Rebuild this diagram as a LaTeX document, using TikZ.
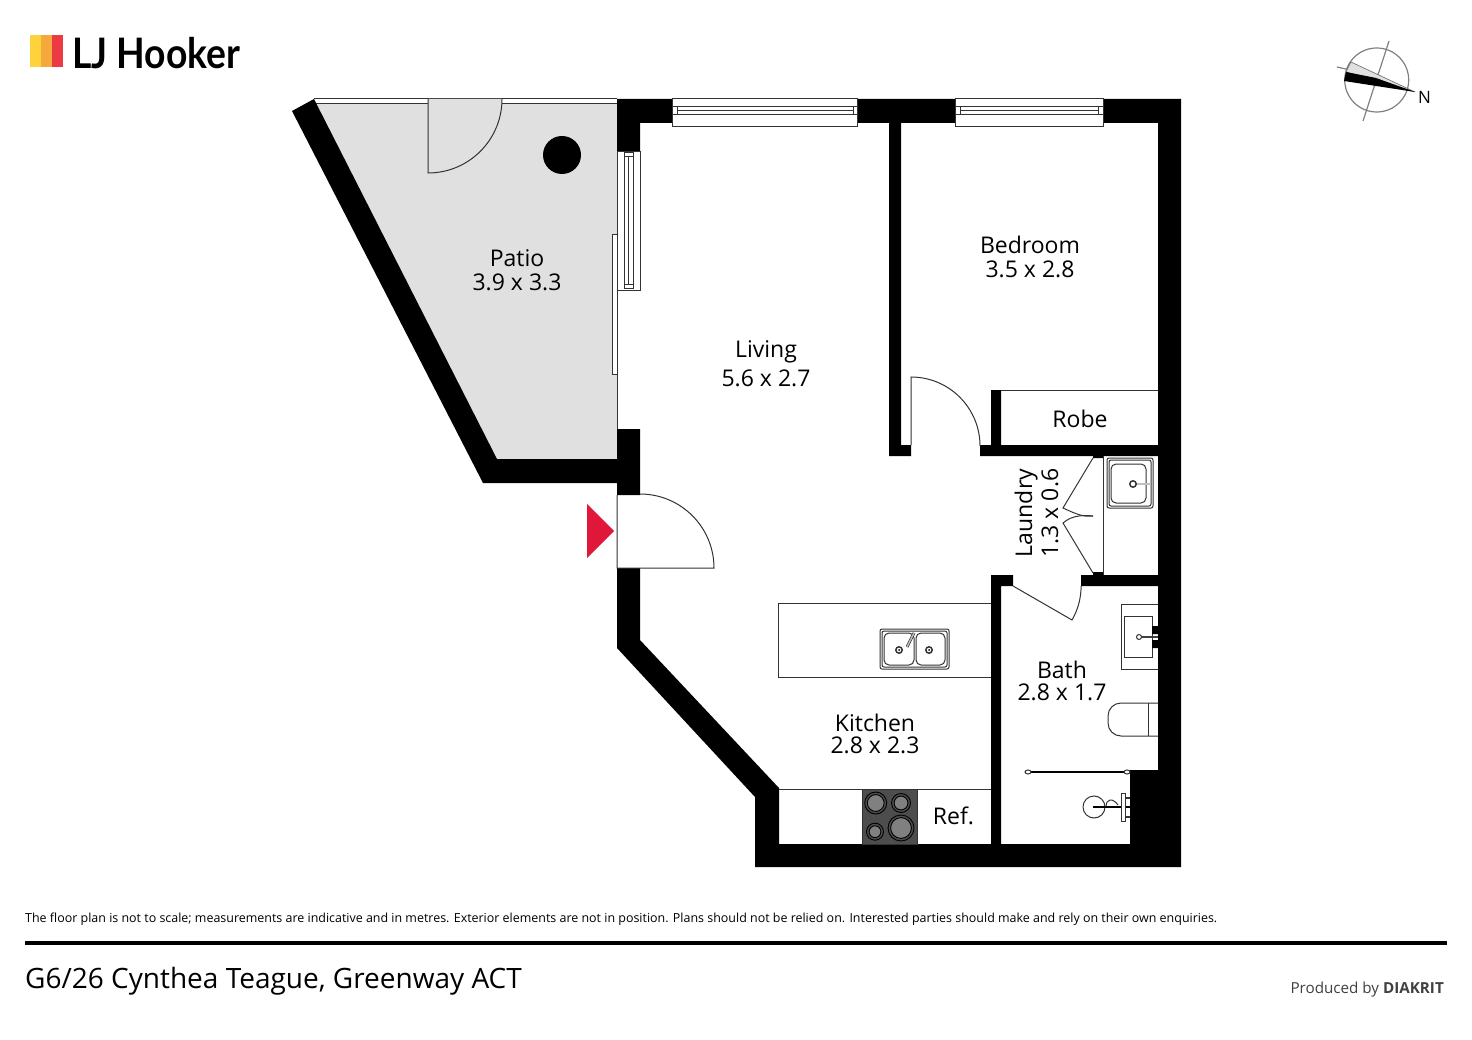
\documentclass[tikz,border=0pt]{standalone}
\usepackage{fontspec}
\setmainfont{Open Sans}
\newfontfamily\logofont{Lato}
\usepackage{xcolor}
\definecolor{patiogrey}{RGB}{224,224,224}
\definecolor{entryred}{RGB}{224,23,58}
\definecolor{logoyellow}{RGB}{253,210,59}
\definecolor{logoorange}{RGB}{245,168,59}
\definecolor{logored}{RGB}{236,58,69}
\definecolor{hobgrey}{RGB}{77,77,77}
\newcommand{\burnerat}[3]{
    \draw[draw=black, fill=hobgrey, line width=0.9pt] (#1,#2) circle[radius=#3];
    \draw[draw=black, fill=black!50, line width=0.9pt] (#1,#2) circle[radius=#3-2.6];
}
\tikzset{
    wall/.style={fill=black},
    fine/.style={draw=black!80, line width=1pt},
    tap/.style={draw=black!80, line width=0.7pt, double=black!25, double distance=1.4pt},
    roomlabel/.style={align=center, inner sep=0pt, font=\fontsize{23}{24}\selectfont},
    compassline/.style={draw=black!50, line width=1.2pt}
}
\begin{document}
\begin{tikzpicture}[x=1pt,y=1pt,yscale=-1]
    \useasboundingbox (0,0) rectangle (1472,1040);

    % logo
    \fill[logoyellow] (30,35) rectangle (41,67);
    \fill[logoorange] (41,35) rectangle (52,67);
    \fill[logored] (52,35) rectangle (63,67);
    \node[anchor=west, inner sep=0pt, font=\logofont\bfseries\fontsize{42}{42}\selectfont] (logotext) at (72,53)
        {\scalebox{0.887}[1]{LJ Hooker}};

    % compass
    \draw[compassline] (1376.7,80) circle[radius=32];
    \draw[compassline] (1389,41) -- (1363,121);
    \draw[compassline] (1337,67) -- (1350,70);
    \fill[black!12, draw=black!60, line width=0.6pt] (1351,62) -- (1415,92) -- (1346,72) -- cycle;
    \fill[black] (1346,72) -- (1376,78) -- (1415,92) -- (1344,81) -- cycle;
    \node[font=\fontsize{17}{17}\selectfont, inner sep=0pt] (north) at (1424.5,97) {N};

    % patio
    \fill[patiogrey] (314,104) -- (617,104) -- (617,459) -- (497,459) -- cycle;
    \draw[fine] (314,99) -- (617,99);
    \draw[fine] (314,104) -- (428,104) (502,104) -- (617,104);
    \filldraw[fine, fill=patiogrey] (428,99) -- (428,173) arc[start angle=90, end angle=0, radius=74];
    \fill[black] (562,155) circle[radius=19];
    \draw[fine, fill=white] (612,235) rectangle (617,375);
    \draw[fine] (617,104) -- (617,429);

    % walls
    \fill[wall] (292,111) -- (314,99) -- (497,459) -- (617,459) -- (617,429) -- (640,429) -- (640,495)
        -- (617,495) -- (617,483) -- (483,483) -- cycle;
    \fill[wall] (617,99) -- (672,99) -- (672,123) -- (640,123) -- (640,152) -- (617,152) -- cycle;
    \fill[wall] (857,99) -- (955,99) -- (955,123) -- (901,123) -- (901,445) -- (911,445) -- (911,456)
        -- (889,456) -- (889,123) -- (857,123) -- cycle;
    \fill[wall] (1103,99) -- (1181,99) -- (1181,867) -- (755,867) -- (755,797) -- (617,648) -- (617,568)
        -- (640,568) -- (640,640) -- (779,788) -- (779,844) -- (991,844) -- (991,575) -- (1013,575)
        -- (1013,586) -- (1001,586) -- (1001,844) -- (1130,844) -- (1130,770) -- (1158,770) -- (1158,586)
        -- (1081,586) -- (1081,575) -- (1103,575) -- (1103,572) -- (1093,572) -- (1093,575) -- (1158,575) -- (1158,456)
        -- (1103,456) -- (1103,458) -- (1093,458) -- (1093,456) -- (980,456) -- (980,445) -- (991,445) -- (991,390)
        -- (1001,390) -- (1001,445) -- (1158,445) -- (1158,123) -- (1103,123) -- cycle;

    % windows
    \draw[fine] (672,99) rectangle (857,127);
    \draw[fine] (677,107) rectangle (853,115) (677,111) -- (853,111) (672,107) -- (857,107) (672,115) -- (857,115);
    \draw[fine] (955,99) rectangle (1103,127);
    \draw[fine] (960,107) rectangle (1098,115) (960,111) -- (1098,111) (955,107) -- (1103,107) (955,115) -- (1103,115);
    \draw[fine] (617,152) rectangle (640,291);
    \draw[fine] (624,153) rectangle (633,289) (628.5,157) -- (628.5,285) (624,157) -- (633,157) (624,285) -- (633,285);

    % doors
    \draw[fine] (617,495) -- (617,568) -- (714,568) arc[start angle=0, end angle=-90, radius=74];
    \draw[fine] (980,445) -- (980,446) arc[start angle=0, end angle=-90, radius=69] -- (911,445);
    \draw[fine] (1013,586) -- (1072,620) arc[start angle=30, end angle=0, radius=68];
    \draw[fine] (1093,458) -- (1063,508) .. controls (1078,515) and (1084,517) .. (1093,516);
    \draw[fine] (1093,573) -- (1063,523) .. controls (1072,515) and (1084,515) .. (1093,516);
    \draw[fine] (1103,456) -- (1103,575);

    % entry marker
    \fill[entryred] (587,504) -- (614,531) -- (587,558) -- cycle;

    % robe, laundry tub
    \draw[fine] (1001,390) -- (1158,390);
    \draw[fine, rounded corners=2pt] (1107,458) rectangle (1153,508);
    \draw[fine, rounded corners=2pt] (1109,460) rectangle (1151,506);
    \draw[fine, rounded corners=5pt] (1111,464) rectangle (1146,503);
    \draw[tap] (1135,484) -- (1150,484);
    \draw[fine, line width=1.5pt, fill=white] (1133,484) circle[radius=3.2];

    % bath fixtures
    \draw[fine] (1158,604) -- (1121,604) -- (1121,669) -- (1158,669);
    \draw[fine] (1124,616) rectangle (1152,657);
    \fill[black] (1152,626) rectangle (1158,634) (1152,640) rectangle (1158,648);
    \draw[black!75, line width=1.4pt] (1141,637) -- (1158,637);
    \draw[fine, fill=white] (1139,637) circle[radius=2.5];
    \draw[fine, rounded corners=13pt] (1158,703) -- (1108,703) -- (1108,736) -- (1158,736);
    \draw[fine] (1148,703) -- (1148,736);
    \draw[black, line width=1.4pt] (1028,772) -- (1127,772);
    \draw[fine, fill=white] (1028,772) ellipse[x radius=3, y radius=2];
    \draw[fine, fill=white] (1127,772) ellipse[x radius=3, y radius=2];
    \draw[fine] (1094,807) circle[radius=11];
    \draw[fine, fill=white] (1106,807) .. controls (1106,798) and (1113,798) .. (1118,805);
    \draw[black, line width=1.4pt] (1093,807) -- (1130,807);
    \draw[fine, fill=white] (1121,793) rectangle (1125,821);
    \draw[fine, line width=1.4pt] (1125,798) -- (1130,798) (1125,817) -- (1130,817);

    % kitchen fixtures
    \draw[fine] (991,603) -- (778,603) -- (778,677) -- (991,677);
    \draw[fine, rounded corners=2pt] (880,629) rectangle (949,669);
    \draw[fine, rounded corners=2pt] (882,631) rectangle (947,667);
    \draw[fine, rounded corners=5pt] (884,633) rectangle (914,665);
    \draw[fine, rounded corners=5pt] (916,633) rectangle (945,665);
    \draw[fine, line width=1.5pt] (899,650) circle[radius=3.2] (929,650) circle[radius=3.2];
    \fill (899,650) circle[radius=1] (929,650) circle[radius=1];
    \draw[tap] (914,633) -- (907,647);
    \draw[fine] (779,789) -- (991,789);
    \filldraw[fine, fill=hobgrey] (862,789) rectangle (917,844);
    \burnerat{875.7}{803}{11}
    \burnerat{901}{803}{9.5}
    \burnerat{875}{831.7}{8.5}
    \burnerat{901}{828}{13}

    % room labels
    \node[roomlabel] (patio) at (517,270) {Patio\\3.9 x 3.3};
    \node[roomlabel] (bedroom) at (1030,257) {Bedroom\\3.5 x 2.8};
    \node[roomlabel] (living) at (766,364) {Living\\[5pt]5.6 x 2.7};
    \node[roomlabel] (robe) at (1080,418.5) {Robe};
    \node[roomlabel, rotate=90] (laundry) at (1036.5,513) {Laundry\\[2pt]1.3 x 0.6};
    \node[roomlabel] (bath) at (1062,681) {Bath\\[-1.5pt]2.8 x 1.7};
    \node[roomlabel] (kitchen) at (875,734) {Kitchen\\[-1.5pt]2.8 x 2.3};
    \node[roomlabel] (ref) at (953.5,816) {Ref.};

    % footer
    \node[anchor=west, inner sep=0pt, font=\fontsize{12.45}{13}\selectfont] (disclaimer) at (25,919.5)
        {The floor plan is not to scale; measurements are indicative and in metres. Exterior elements are not in position. Plans should not be relied on. Interested parties should make and rely on their own enquiries.};
    \fill[black] (25,941) rectangle (1447,945);
    \node[anchor=west, inner sep=0pt, font=\fontsize{28}{28}\selectfont] (address) at (25,981)
        {G6/26 Cynthea Teague, Greenway ACT};
    \node[anchor=east, inner sep=0pt, font=\fontsize{15.2}{16}\selectfont, text=black!75] (credit) at (1444,989.5)
        {Produced by \textbf{DIAKRIT}};
\end{tikzpicture}
\end{document}
